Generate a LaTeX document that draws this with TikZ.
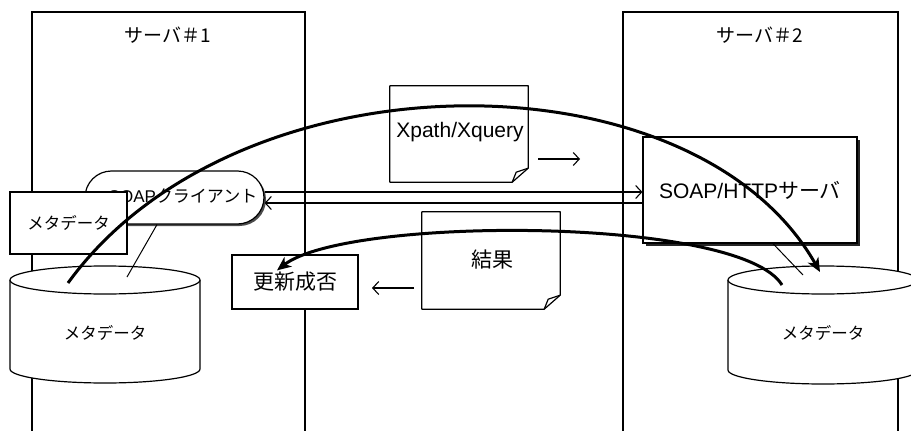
\documentclass[tikz,border=0pt]{standalone}
\usepackage{fontspec}
\setmainfont{Liberation Sans}
\newfontfamily\jp{Noto Sans CJK JP}
\usetikzlibrary{arrows.meta,shadows,calc}

\begin{document}
\begin{tikzpicture}[x=1pt,y=-1pt,
  frame/.style={line width=1.3pt},
  box/.style={draw, fill=white, line width=1.2pt, inner sep=0pt},
  outline/.style={line width=1.2pt, line join=round},
  link/.style={line width=1pt},
  flow/.style={line width=3pt, -{Stealth[length=14pt,width=12pt,inset=4pt]}},
  msg/.style={line width=1.1pt, -{Straight Barb[length=6pt,width=13pt]}},
  title/.style={font=\fontsize{19}{21}\selectfont\jp},
  small/.style={font=\fontsize{16.5}{18}\selectfont\jp},
  big/.style={font=\fontsize{21}{23}\selectfont},
  bigjp/.style={font=\fontsize{21}{23}\selectfont\jp},
]
\useasboundingbox (0,0) rectangle (911,431);
\clip (0,0) rectangle (911,431);

% server frames (open at the bottom)
\draw[frame] (32,445) -- (32,12) -- (305,12) -- (305,445);
\draw[frame] (623,445) -- (623,12) -- (898,12) -- (898,445);
\node[title] (srv1) at (168,35) {サーバ＃1};
\node[title] (srv2) at (760,35) {サーバ＃2};

% SOAP client (rounded, with a small shadow)
\node[box, rounded corners=26.5pt, minimum width=179pt, minimum height=53pt,
      drop shadow={shadow xshift=2pt, shadow yshift=-2pt, fill=black!70, opacity=1}]
      (client) at (174.5,197.5) {};
\node[font=\fontsize{17}{19}\selectfont] (clientlabel) at (183,196.5) {SOAP{\jp クライアント}};

% local metadata cache box
\node[box, small, minimum width=117pt, minimum height=62pt] (meta) at (68.5,223) {メタデータ};

% database cylinders
\fill[white] (10,280) -- (10,369) arc[start angle=180,end angle=0,x radius=95,y radius=14] -- (200,280) -- cycle;
\draw[outline] (10,280) -- (10,369) arc[start angle=180,end angle=0,x radius=95,y radius=14] -- (200,280);
\draw[outline, fill=white] (105,280) ellipse[x radius=95, y radius=14];
\node[small] (cyl1) at (105,333) {メタデータ};

\fill[white] (728,280) -- (728,370) arc[start angle=180,end angle=0,x radius=95,y radius=14] -- (918,280) -- cycle;
\draw[outline] (728,280) -- (728,370) arc[start angle=180,end angle=0,x radius=95,y radius=14] -- (918,280);
\draw[outline, fill=white] (823,280) ellipse[x radius=95, y radius=14];
\node[small] (cyl2) at (823,333) {メタデータ};

\coordinate (cyl1in)  at (127,277);
\coordinate (cyl1src) at (68,283);
\coordinate (cyl2in)  at (803,275);
\coordinate (cyl2src) at (782,285);
\coordinate (cyl2dst) at (820,272);

% query document
\node[minimum width=138pt, minimum height=96pt, inner sep=0pt] (xq) at (459,134) {};
\draw[outline, fill=white] (xq.north west) -- (xq.north east) -- ($(xq.south east)+(0,-14)$)
   -- ($(xq.south east)+(-16,0)$) -- (xq.south west) -- cycle;
\draw[outline] ($(xq.south east)+(-16,0)$) -- ($(xq.south east)+(-12,-10)$) -- ($(xq.south east)+(0,-14)$);
\node[big] (xqlabel) at (460,132) {Xpath/Xquery};

% result document
\node[minimum width=138pt, minimum height=97pt, inner sep=0pt] (res) at (491,260.5) {};
\draw[outline, fill=white] (res.north west) -- (res.north east) -- ($(res.south east)+(0,-14)$)
   -- ($(res.south east)+(-16,0)$) -- (res.south west) -- cycle;
\draw[outline] ($(res.south east)+(-16,0)$) -- ($(res.south east)+(-12,-10)$) -- ($(res.south east)+(0,-14)$);
\node[bigjp] (reslabel) at (492,260) {結果};

% update status box
\node[box, bigjp, minimum width=126pt, minimum height=54pt] (upd) at (295,282) {更新成否};

% SOAP/HTTP server box
\node[box, big, minimum width=214pt, minimum height=106pt,
      drop shadow={shadow xshift=3pt, shadow yshift=-3pt, fill=black!85, opacity=1}]
      (soap) at (750,190) {SOAP/HTTP{\jp サーバ}};

% links between components and stores
\draw[link] ([xshift=-17.5pt]client.south) -- (cyl1in);
\draw[link] ([xshift=23pt]soap.south) -- (cyl2in);

% request / response lines
\draw[msg] ([yshift=5.5pt]client.east) -- ([yshift=-2pt]soap.west);
\draw[msg] ([yshift=-13pt]soap.west) -- ([yshift=-5.5pt]client.east);

% direction marks beside the documents
\coordinate (qa) at (538,159);
\coordinate (qb) at (580,159);
\draw[msg] (qa) -- (qb);
\coordinate (ra) at (414,288);
\coordinate (rb) at (372,288);
\draw[msg] (ra) -- (rb);

% data flows
\draw[flow] (cyl1src) .. controls (237,50) and (694,50) .. (cyl2dst);
\draw[flow] (cyl2src) .. controls (740,216) and (347,216) .. ([xshift=-18pt,yshift=-16pt]upd.north);
\end{tikzpicture}
\end{document}
